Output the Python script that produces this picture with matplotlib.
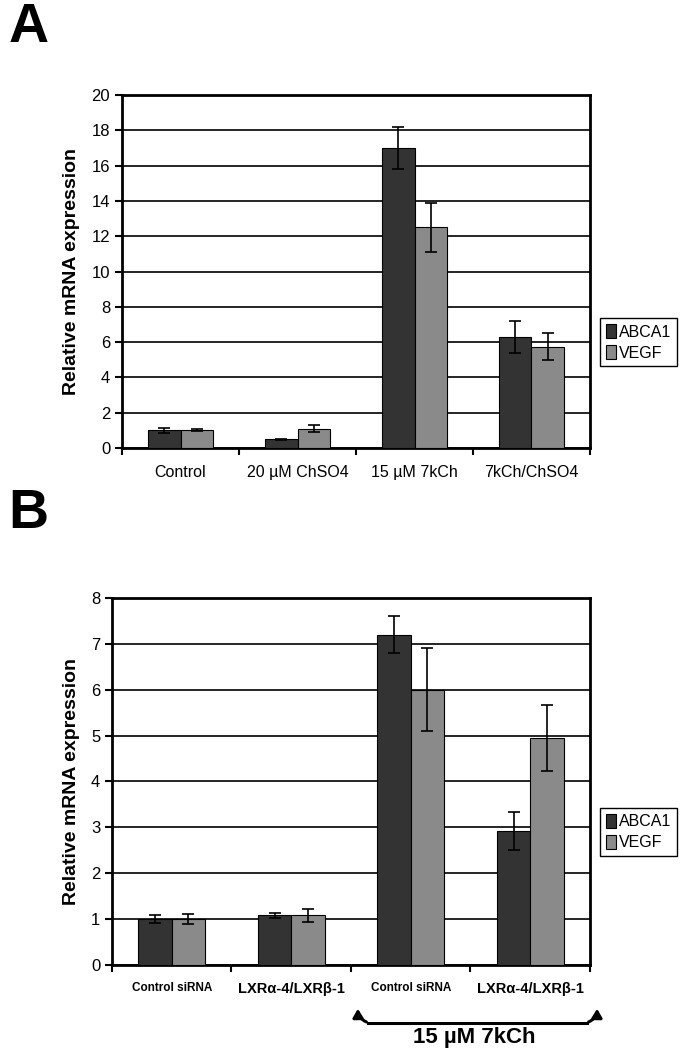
import matplotlib.pyplot as plt
import numpy as np
from matplotlib.patches import FancyArrowPatch

plt.rcParams['font.family'] = ['Liberation Sans', 'DejaVu Sans']

series = ['ABCA1', 'VEGF']
colors = ['#333333', '#8a8a8a']

cats_a = ['Control', '20 \u00b5M ChSO4', '15 \u00b5M 7kCh', '7kCh/ChSO4']
abca1_a = [1.0, 0.5, 17.0, 6.3]
abca1_a_err = [0.12, 0.03, 1.2, 0.9]
vegf_a = [1.02, 1.1, 12.5, 5.75]
vegf_a_err = [0.08, 0.18, 1.4, 0.78]

cats_b = ['Control siRNA', 'LXR\u03b1-4/LXR\u03b2-1', 'Control siRNA', 'LXR\u03b1-4/LXR\u03b2-1']
abca1_b = [1.0, 1.08, 7.2, 2.92]
abca1_b_err = [0.08, 0.06, 0.4, 0.42]
vegf_b = [1.0, 1.08, 6.0, 4.95]
vegf_b_err = [0.1, 0.14, 0.9, 0.72]

fig = plt.figure(figsize=(6.87, 10.5), dpi=100)
ax_a = fig.add_axes([0.1776, 0.5733, 0.6812, 0.3362])
ax_b = fig.add_axes([0.163, 0.0810, 0.6958, 0.3495])

w = 0.28


def panel(ax, cats, v1, e1, v2, e2, ymax, step, tickfs, tickweight):
    x = np.arange(len(cats)) + 0.5
    vals = [v1, v2]
    errs = [e1, e2]
    for i in range(2):
        ax.bar(x + (i - 0.5) * w, vals[i], w, color=colors[i], edgecolor='black',
               linewidth=0.8, label=series[i], zorder=3,
               yerr=errs[i], error_kw=dict(ecolor='black', elinewidth=1.2, capsize=4, capthick=1.2, zorder=4))
    ax.set_xlim(0, len(cats))
    ax.set_ylim(0, ymax)
    ax.set_yticks(np.arange(0, ymax + step / 2, step))
    ax.yaxis.grid(True, color='black', linewidth=1.2, zorder=0)
    ax.set_axisbelow(True)
    ax.set_xticks(np.arange(len(cats) + 1))
    ax.set_xticklabels([])
    ax.set_xticks(x, minor=True)
    ax.set_xticklabels(cats, minor=True, fontsize=tickfs, fontweight=tickweight)
    ax.tick_params(axis='x', which='minor', length=0, pad=12)
    ax.tick_params(axis='x', which='major', length=5, width=1.5, direction='out')
    ax.tick_params(axis='y', length=5, width=1.5, labelsize=12)
    for s in ax.spines.values():
        s.set_linewidth(2)
    ax.set_ylabel('Relative mRNA expression', fontsize=14, fontweight='bold', labelpad=8)


panel(ax_a, cats_a, abca1_a, abca1_a_err, vegf_a, vegf_a_err, 20, 2, 11.5, 'normal')
panel(ax_b, cats_b, abca1_b, abca1_b_err, vegf_b, vegf_b_err, 8, 1, 8.5, 'bold')
for lab in ax_b.get_xticklabels(minor=True):
    if lab.get_text().startswith('LXR'):
        lab.set_fontsize(10.5)

for ax, yc in [(ax_a, 0.674), (ax_b, 0.2076)]:
    leg = ax.legend(loc='center left', bbox_to_anchor=(0.874, yc), bbox_transform=fig.transFigure,
                    fancybox=False, framealpha=1, edgecolor='black', fontsize=11.5,
                    handlelength=0.6, handleheight=1.0, handletextpad=0.2, borderpad=0.35,
                    labelspacing=0.35, borderaxespad=0)
    leg.get_frame().set_linewidth(1.0)

fig.text(0.012, 0.998, 'A', fontsize=40, fontweight='bold', va='top')
fig.text(0.012, 0.535, 'B', fontsize=40, fontweight='bold', va='top')

# bracket under the 7kCh groups
tr = fig.transFigure
y_line = 1 - 1023 / 1050
y_tip = 1 - 1006 / 1050
x0, x1 = 358 / 687, 597 / 687
fig.add_artist(plt.Line2D([x0 + 0.015, x1 - 0.015], [y_line, y_line], color='black', lw=2.2, transform=tr))
fig.add_artist(FancyArrowPatch((x0 + 0.016, y_line), (x0, y_tip), transform=tr,
                               connectionstyle='arc3,rad=-0.4', arrowstyle='-|>,head_length=5,head_width=3',
                               color='black', lw=2.2))
fig.add_artist(FancyArrowPatch((x1 - 0.016, y_line), (x1, y_tip), transform=tr,
                               connectionstyle='arc3,rad=0.4', arrowstyle='-|>,head_length=5,head_width=3',
                               color='black', lw=2.2))
fig.text((x0 + x1) / 2 - 0.005, 1 - 1038 / 1050, '15 \u00b5M 7kCh', fontsize=16, fontweight='bold',
         ha='center', va='center')

fig.savefig('out.png', dpi=100)
